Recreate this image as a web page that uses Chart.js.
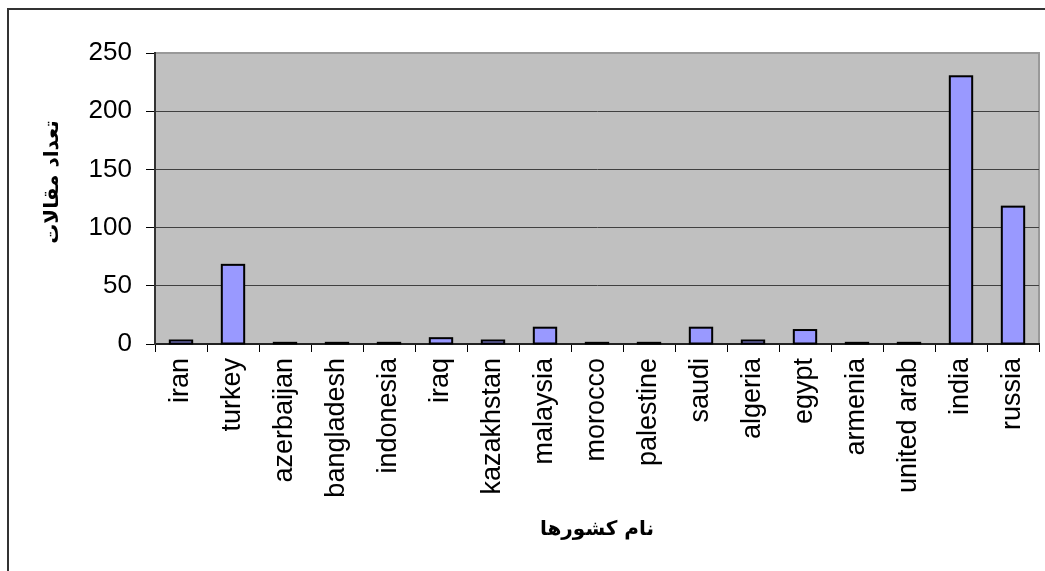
<!DOCTYPE html>
<html>
<head>
<meta charset="utf-8">
<script src="https://cdn.jsdelivr.net/npm/chart.js@4"></script>
<style>
html,body{margin:0;padding:0;background:#fff;}
#c{display:block;}
</style>
</head>
<body>
<canvas id="c" width="1045" height="571"></canvas>
<script>
const categories = ["iran","turkey","azerbaijan","bangladesh","indonesia","iraq","kazakhstan","malaysia","morocco","palestine","saudi","algeria","egypt","armenia","united arab","india","russia"];
const articleCounts = [3,68,1,1,1,5,3,14,1,1,14,3,12,1,1,230,118];
const yTicks = [0,50,100,150,200,250];
const xTitle = "نام کشورها";
const yTitle = "تعداد مقالات";

const framePlugin = {
  id: 'frame',
  beforeDraw(chart) {
    const {ctx, chartArea: {left, top, right, bottom}} = chart;
    ctx.save();
    ctx.fillStyle = '#ffffff';
    ctx.fillRect(0, 0, chart.width, chart.height);
    ctx.fillStyle = '#C0C0C0';
    ctx.fillRect(left, top, right - left, bottom - top);
    ctx.strokeStyle = '#333333';
    ctx.lineWidth = 2;
    ctx.beginPath();
    ctx.moveTo(8, chart.height);
    ctx.lineTo(8, 9);
    ctx.lineTo(chart.width, 9);
    ctx.stroke();
    ctx.strokeStyle = '#999999';
    ctx.lineWidth = 2;
    ctx.beginPath();
    ctx.moveTo(left, top);
    ctx.lineTo(right, top);
    ctx.lineTo(right, bottom);
    ctx.stroke();
    ctx.restore();
  },
  afterDatasetsDraw(chart) {
    const {ctx} = chart;
    const meta = chart.getDatasetMeta(0);
    ctx.save();
    ctx.strokeStyle = '#000000';
    ctx.lineWidth = 2;
    meta.data.forEach(bar => {
      const p = bar.getProps(['x', 'y', 'base', 'width'], true);
      const top = Math.min(p.y, p.base);
      const h = Math.abs(p.base - p.y);
      ctx.strokeRect(p.x - p.width / 2, top, p.width, h);
    });
    ctx.restore();
  },
  afterDraw(chart) {
    const {ctx} = chart;
    ctx.save();
    ctx.translate(53, 182);
    ctx.rotate(-Math.PI / 2);
    ctx.fillStyle = '#000';
    ctx.font = 'bold 20px "DejaVu Sans"';
    ctx.textAlign = 'center';
    ctx.textBaseline = 'middle';
    ctx.fillText(yTitle, 0, 0);
    ctx.restore();
  }
};

new Chart(document.getElementById('c'), {
  type: 'bar',
  data: {
    labels: categories,
    datasets: [{
      data: articleCounts,
      backgroundColor: '#9999FF',
      borderWidth: 0,
      barPercentage: 0.43,
      categoryPercentage: 1.0
    }]
  },
  options: {
    responsive: false,
    animation: false,
    devicePixelRatio: 1,
    layout: {padding: {top: 53, right: 0, left: 0, bottom: 0}},
    plugins: {legend: {display: false}, tooltip: {enabled: false}},
    scales: {
      x: {
        grid: {display: true, drawOnChartArea: false, drawTicks: true, tickLength: 8, offset: true, color: '#000', lineWidth: 1},
        border: {display: true, color: '#222', width: 2},
        ticks: {
          minRotation: 90, maxRotation: 90, autoSkip: false, padding: 6,
          color: '#000', font: {family: '"Liberation Sans", Arial, sans-serif', size: 27}
        },
        title: {
          display: true, text: xTitle, color: '#000',
          font: {family: '"DejaVu Sans"', size: 20, weight: 'bold'},
          padding: {top: 0, bottom: 29}
        },
        afterFit(scale) { scale.height = 227; scale.paddingRight = 6; scale.paddingLeft = 0; }
      },
      y: {
        min: 0, max: 250,
        afterBuildTicks(scale) { scale.ticks = yTicks.map(v => ({value: v})); },
        grid: {
          color: c => (c.tick && c.tick.value === 250) ? '#999999' : '#404040',
          tickColor: '#000', tickLength: 9, lineWidth: 1
        },
        border: {display: true, color: '#333', width: 2},
        ticks: {
          padding: 14, color: '#000',
          font: {family: '"Liberation Sans", Arial, sans-serif', size: 26}
        },
        afterFit(scale) { scale.width = 155; }
      }
    }
  },
  plugins: [framePlugin]
});
</script>
</body>
</html>
